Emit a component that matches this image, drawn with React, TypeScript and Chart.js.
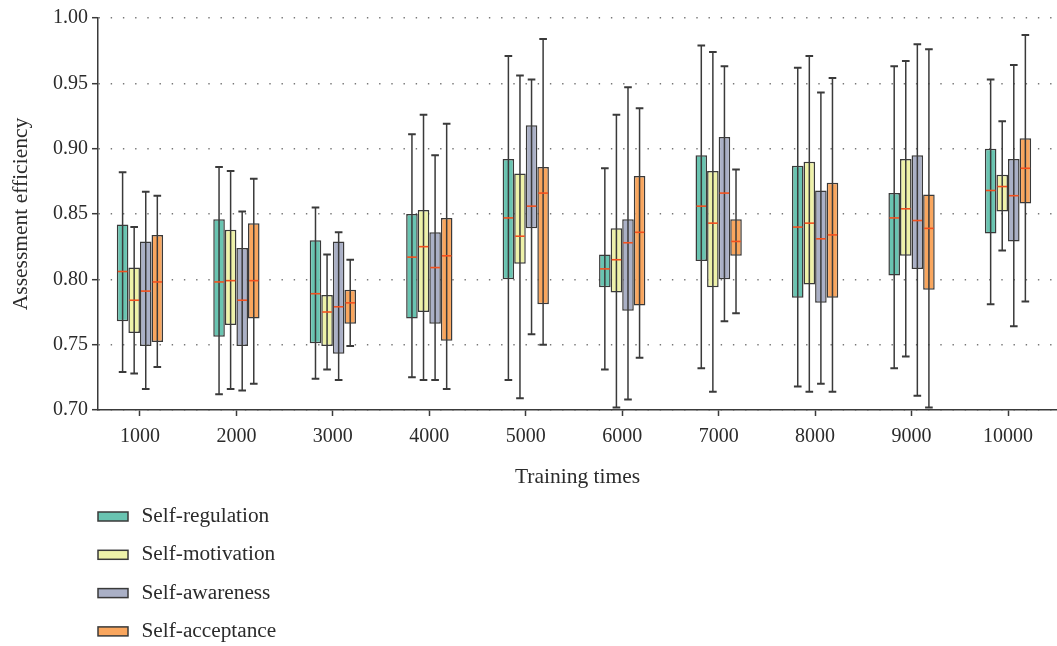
import React, { useEffect, useRef } from "react";
import { Chart, registerables } from "chart.js";

Chart.register(...registerables);

// ---------- data ----------
const trainingTimes = [1000, 2000, 3000, 4000, 5000, 6000, 7000, 8000, 9000, 10000];
const seriesNames = ["Self-regulation", "Self-motivation", "Self-awareness", "Self-acceptance"];
const seriesColors = ["#69c4b1", "#eef2a9", "#aab0c6", "#f9a65e"];
const yTickValues = [0.7, 0.75, 0.8, 0.85, 0.9, 0.95, 1.0];

const regulationLow = [0.729, 0.712, 0.724, 0.725, 0.723, 0.731, 0.732, 0.718, 0.732, 0.781];
const regulationQ1 = [0.768, 0.756, 0.751, 0.770, 0.800, 0.794, 0.814, 0.786, 0.803, 0.835];
const regulationMedian = [0.806, 0.798, 0.789, 0.817, 0.847, 0.808, 0.856, 0.840, 0.847, 0.868];
const regulationQ3 = [0.842, 0.846, 0.830, 0.850, 0.892, 0.819, 0.895, 0.887, 0.866, 0.900];
const regulationHigh = [0.882, 0.886, 0.855, 0.911, 0.971, 0.885, 0.979, 0.962, 0.963, 0.953];

const motivationLow = [0.728, 0.716, 0.731, 0.723, 0.709, 0.702, 0.714, 0.714, 0.741, 0.822];
const motivationQ1 = [0.759, 0.765, 0.749, 0.775, 0.812, 0.790, 0.794, 0.796, 0.818, 0.852];
const motivationMedian = [0.784, 0.799, 0.775, 0.825, 0.833, 0.815, 0.843, 0.843, 0.854, 0.871];
const motivationQ3 = [0.809, 0.838, 0.788, 0.853, 0.881, 0.839, 0.883, 0.890, 0.892, 0.880];
const motivationHigh = [0.840, 0.883, 0.819, 0.926, 0.956, 0.926, 0.974, 0.971, 0.967, 0.921];

const awarenessLow = [0.716, 0.715, 0.723, 0.723, 0.758, 0.708, 0.768, 0.720, 0.711, 0.764];
const awarenessQ1 = [0.749, 0.749, 0.743, 0.766, 0.839, 0.776, 0.800, 0.782, 0.808, 0.829];
const awarenessMedian = [0.791, 0.784, 0.779, 0.809, 0.856, 0.828, 0.866, 0.831, 0.845, 0.864];
const awarenessQ3 = [0.829, 0.824, 0.829, 0.836, 0.918, 0.846, 0.909, 0.868, 0.895, 0.892];
const awarenessHigh = [0.867, 0.852, 0.836, 0.895, 0.953, 0.947, 0.963, 0.943, 0.980, 0.964];

const acceptanceLow = [0.733, 0.720, 0.749, 0.716, 0.750, 0.740, 0.774, 0.714, 0.702, 0.783];
const acceptanceQ1 = [0.752, 0.770, 0.766, 0.753, 0.781, 0.780, 0.818, 0.786, 0.792, 0.858];
const acceptanceMedian = [0.798, 0.799, 0.782, 0.818, 0.866, 0.836, 0.829, 0.834, 0.839, 0.885];
const acceptanceQ3 = [0.834, 0.843, 0.792, 0.847, 0.886, 0.879, 0.846, 0.874, 0.865, 0.908];
const acceptanceHigh = [0.864, 0.877, 0.815, 0.919, 0.984, 0.931, 0.884, 0.954, 0.976, 0.987];

const seriesStats = [
  [regulationLow, regulationQ1, regulationMedian, regulationQ3, regulationHigh],
  [motivationLow, motivationQ1, motivationMedian, motivationQ3, motivationHigh],
  [awarenessLow, awarenessQ1, awarenessMedian, awarenessQ3, awarenessHigh],
  [acceptanceLow, acceptanceQ1, acceptanceMedian, acceptanceQ3, acceptanceHigh],
];

// ---------- styling ----------
const FONT = "'Liberation Serif', 'Times New Roman', serif";
const TEXT = "#2b2b2b";
const EDGE = "#3a3a3a";
const MEDIAN = "#f4511e";

const boxPlugin = {
  id: "boxWhiskers",
  afterDatasetsDraw(chart: any) {
    const ctx = chart.ctx;
    const yScale = chart.scales.y;
    chart.data.datasets.forEach((ds: any, di: number) => {
      const meta = chart.getDatasetMeta(di);
      meta.data.forEach((bar: any, j: number) => {
        const { x, width } = bar.getProps(["x", "width"], true);
        const yLow = yScale.getPixelForValue(ds.whiskerLow[j]);
        const yHigh = yScale.getPixelForValue(ds.whiskerHigh[j]);
        const yMed = yScale.getPixelForValue(ds.median[j]);
        const cap = width * 0.33;
        ctx.save();
        ctx.strokeStyle = EDGE;
        ctx.lineWidth = 1.5;
        ctx.beginPath();
        ctx.moveTo(x, yLow);
        ctx.lineTo(x, yHigh);
        ctx.stroke();
        ctx.lineWidth = 2;
        ctx.beginPath();
        ctx.moveTo(x - cap, yLow);
        ctx.lineTo(x + cap, yLow);
        ctx.moveTo(x - cap, yHigh);
        ctx.lineTo(x + cap, yHigh);
        ctx.stroke();
        ctx.strokeStyle = MEDIAN;
        ctx.lineWidth = 1.6;
        ctx.beginPath();
        ctx.moveTo(x - width / 2 + 1, yMed);
        ctx.lineTo(x + width / 2 - 1, yMed);
        ctx.stroke();
        ctx.restore();
      });
    });
  },
};

const legendPlugin = {
  id: "verticalLegend",
  afterDraw(chart: any) {
    const ctx = chart.ctx;
    const { left, bottom } = chart.chartArea;
    ctx.save();
    chart.data.datasets.forEach((ds: any, i: number) => {
      const cy = bottom + 106.5 + i * 38.3;
      ctx.fillStyle = ds.backgroundColor;
      ctx.fillRect(left, cy - 4.5, 30, 9);
      ctx.strokeStyle = EDGE;
      ctx.lineWidth = 1.5;
      ctx.strokeRect(left, cy - 4.5, 30, 9);
      ctx.fillStyle = TEXT;
      ctx.font = `21.3px ${FONT}`;
      ctx.textBaseline = "middle";
      ctx.textAlign = "left";
      ctx.fillText(ds.label, left + 43.5, cy);
    });
    ctx.restore();
  },
};

export default function App() {
  const canvasRef = useRef<HTMLCanvasElement | null>(null);

  useEffect(() => {
    if (!canvasRef.current) return;
    const datasets = seriesNames.map((name, si) => {
      const [low, q1, med, q3, high] = seriesStats[si];
      return {
        label: name,
        data: trainingTimes.map((t, i) => ({ x: t, y: [q1[i], q3[i]] })),
        backgroundColor: seriesColors[si],
        borderColor: EDGE,
        borderWidth: 1.5,
        borderSkipped: false,
        barPercentage: 1,
        categoryPercentage: 0.48,
        whiskerLow: low,
        whiskerHigh: high,
        median: med,
      } as any;
    });

    const chart = new Chart(canvasRef.current, {
      type: "bar",
      data: { datasets },
      plugins: [boxPlugin, legendPlugin],
      options: {
        animation: false,
        responsive: true,
        maintainAspectRatio: false,
        layout: { padding: { top: 18, right: 0, bottom: 152, left: 0 } },
        plugins: {
          legend: { display: false },
          tooltip: { enabled: false },
        },
        scales: {
          x: {
            type: "linear",
            min: 565,
            max: 10508,
            offset: false,
            afterFit: (s: any) => {
              s.height = 84;
            },
            afterBuildTicks: (s: any) => {
              s.ticks = trainingTimes.map((v) => ({ value: v }));
            },
            ticks: {
              stepSize: 1000,
              includeBounds: false,
              autoSkip: false,
              maxRotation: 0,
              padding: 9,
              color: TEXT,
              font: { family: FONT, size: 20 },
              callback: (v: any) => String(v),
            },
            grid: {
              offset: false,
              drawOnChartArea: false,
              drawTicks: true,
              tickLength: 6,
              color: EDGE,
              tickColor: EDGE,
              tickWidth: 1.5,
            },
            border: { display: true, color: EDGE, width: 1.5 },
            title: {
              display: true,
              text: "Training times",
              color: TEXT,
              font: { family: FONT, size: 21.5 },
              padding: { top: 6, bottom: 4 },
            },
          },
          y: {
            min: 0.7,
            max: 1.0,
            afterFit: (s: any) => {
              s.width = 98;
            },
            afterBuildTicks: (s: any) => {
              s.ticks = yTickValues.map((v) => ({ value: v }));
            },
            ticks: {
              stepSize: 0.05,
              padding: 4,
              color: TEXT,
              font: { family: FONT, size: 20 },
              callback: (v: any) => Number(v).toFixed(2),
            },
            grid: {
              drawOnChartArea: true,
              drawTicks: true,
              tickLength: 6,
              color: "#777",
              lineWidth: 1.4,
              tickColor: EDGE,
              tickWidth: 1.5,
              tickBorderDash: [],
            },
            border: { display: true, color: EDGE, width: 1.5, dash: [1.4, 10.8] },
            title: {
              display: true,
              text: "Assessment efficiency",
              color: TEXT,
              font: { family: FONT, size: 21.5 },
              padding: { top: 8, bottom: 0 },
            },
          },
        },
      } as any,
    });
    return () => chart.destroy();
  }, []);

  return (
    <div style={{ position: "fixed", left: 0, top: 0, width: 1057, height: 646, background: "#fff" }}>
      <canvas ref={canvasRef} />
    </div>
  );
}
